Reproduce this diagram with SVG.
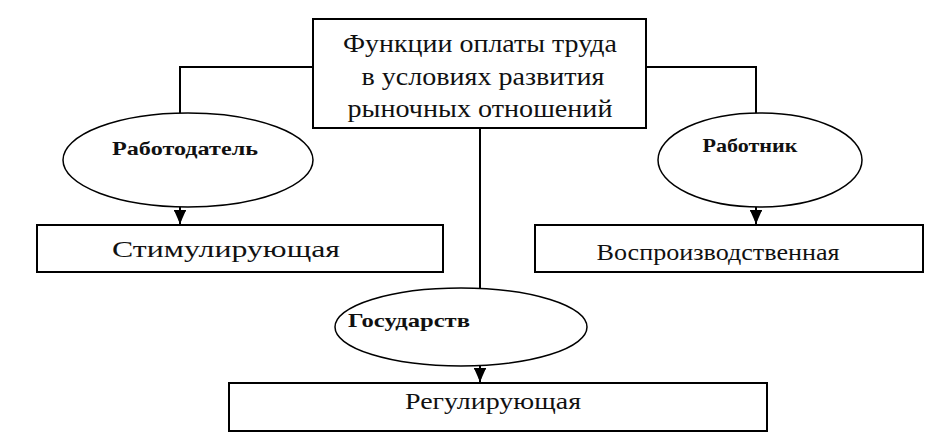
<svg xmlns="http://www.w3.org/2000/svg" width="934" height="432" viewBox="0 0 934 432">
<style>
.box{fill:#fff;stroke:#000;stroke-width:2}
.ell{fill:#fff;stroke:#000;stroke-width:1.5}
.ln{fill:none;stroke:#000;stroke-width:2}
text{font-family:"Liberation Serif","DejaVu Serif",serif;fill:#111;text-anchor:middle}
.big{font-size:25px}
.mid{font-size:24px}
.lab{font-size:19px;font-weight:bold}
</style>
<defs>
<marker id="ah" viewBox="0 0 14 12" refX="14" refY="6" markerWidth="14" markerHeight="12" markerUnits="userSpaceOnUse" orient="auto">
<path d="M0,0 Q6,6 14,6 Q6,6 0,12 Q4,6 0,0 Z" fill="#000" stroke="#000" stroke-width="1"/>
<path d="M0,0 L14,6 L0,12 Z" fill="#000"/>
</marker>
</defs>
<rect width="934" height="432" fill="#fff"/>
<g id="connectors">
<path class="ln" d="M313,67 H180 V113"/>
<path class="ln" d="M646,67 H756 V113"/>
<path class="ln" d="M480,128 V288"/>
<path class="ln" d="M180,207 V224" marker-end="url(#ah)"/>
<path class="ln" d="M756,207 V224" marker-end="url(#ah)"/>
<path class="ln" d="M480,366 V382" marker-end="url(#ah)"/>
</g>
<g id="top">
<rect class="box" x="313" y="19" width="333" height="109"/>
<text class="big" x="480" y="52" font-family="Liberation Serif, serif" textLength="274" lengthAdjust="spacingAndGlyphs">Функции оплаты труда</text>
<text class="big" x="483" y="85" font-family="Liberation Serif, serif" textLength="243" lengthAdjust="spacingAndGlyphs">в условиях развития</text>
<text class="big" x="480" y="117" font-family="Liberation Serif, serif" textLength="265" lengthAdjust="spacingAndGlyphs">рыночных отношений</text>
</g>
<g id="employer">
<ellipse class="ell" cx="188" cy="160" rx="125" ry="47"/>
<text class="lab" x="185" y="155" font-family="Liberation Serif, serif" textLength="146" lengthAdjust="spacingAndGlyphs">Работодатель</text>
</g>
<g id="worker">
<ellipse class="ell" cx="760" cy="160" rx="102" ry="47"/>
<text class="lab" x="750" y="152" font-family="Liberation Serif, serif" textLength="95" lengthAdjust="spacingAndGlyphs">Работник</text>
</g>
<g id="state">
<ellipse class="ell" cx="461" cy="327" rx="126" ry="39"/>
<text class="lab" x="409" y="327" font-family="Liberation Serif, serif" textLength="122" lengthAdjust="spacingAndGlyphs">Государств</text>
</g>
<g id="stim">
<rect class="box" x="37" y="225" width="406" height="47"/>
<text class="mid" x="226" y="257" font-family="Liberation Serif, serif" textLength="228" lengthAdjust="spacingAndGlyphs">Стимулирующая</text>
</g>
<g id="repro">
<rect class="box" x="535" y="225" width="388" height="47"/>
<text class="mid" x="718" y="260" font-family="Liberation Serif, serif" textLength="243" lengthAdjust="spacingAndGlyphs">Воспроизводственная</text>
</g>
<g id="reg">
<rect class="box" x="229" y="383" width="538" height="48"/>
<text class="mid" x="493" y="409" font-family="Liberation Serif, serif" textLength="176" lengthAdjust="spacingAndGlyphs">Регулирующая</text>
</g>
</svg>
